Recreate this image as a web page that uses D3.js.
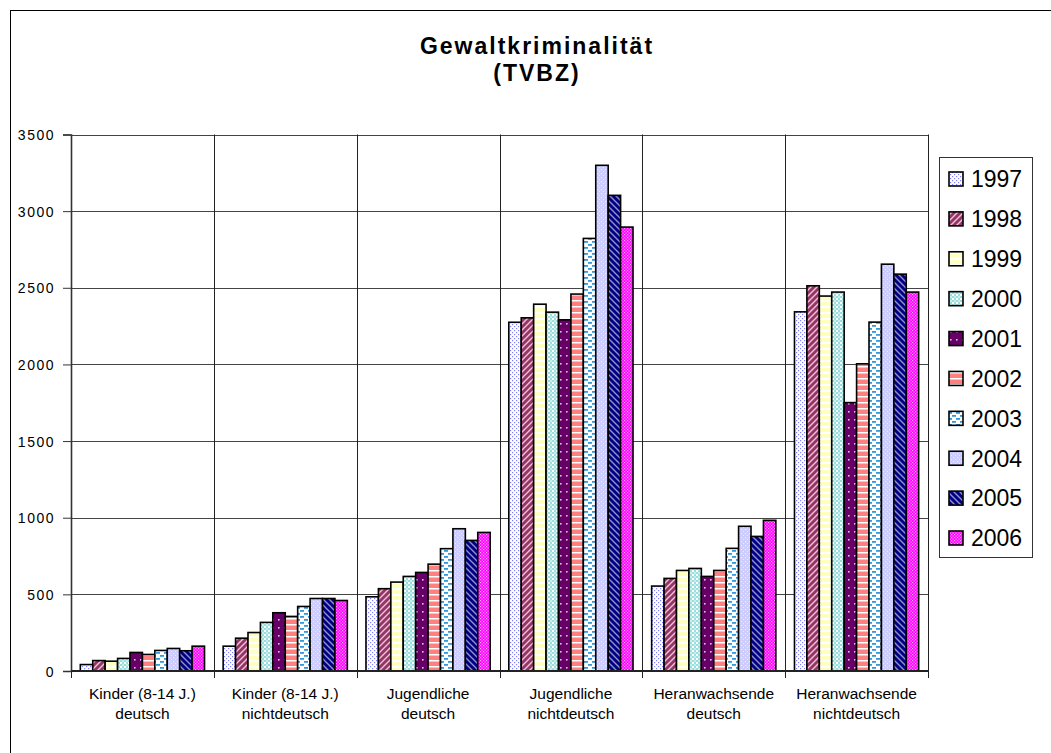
<!DOCTYPE html>
<html>
<head>
<meta charset="utf-8">
<script src="https://cdn.jsdelivr.net/npm/d3@7"></script>
<style>
  html, body { margin: 0; padding: 0; background: #fff; }
  svg { display: block; }
  text { font-family: "Liberation Sans", Arial, sans-serif; fill: #000; }
</style>
</head>
<body>
<svg id="chart" width="1051" height="753"></svg>
<script>
// ---------- data ----------
const categories = [
  ["Kinder (8-14 J.)", "deutsch"],
  ["Kinder (8-14 J.)", "nichtdeutsch"],
  ["Jugendliche", "deutsch"],
  ["Jugendliche", "nichtdeutsch"],
  ["Heranwachsende", "deutsch"],
  ["Heranwachsende", "nichtdeutsch"]
];
const years = ["1997","1998","1999","2000","2001","2002","2003","2004","2005","2006"];
const s1997 = [42, 162, 484, 2275, 554, 2343];
const s1998 = [68, 214, 537, 2304, 604, 2513];
const s1999 = [64, 251, 580, 2393, 656, 2446];
const s2000 = [82, 317, 617, 2341, 669, 2472];
const s2001 = [121, 380, 643, 2291, 617, 1751];
const s2002 = [108, 356, 697, 2459, 656, 2004];
const s2003 = [134, 421, 798, 2822, 800, 2276];
const s2004 = [147, 473, 928, 3299, 944, 2654];
const s2005 = [132, 473, 852, 3103, 878, 2589];
const s2006 = [162, 460, 904, 2896, 983, 2472];
const yTicks = [0, 500, 1000, 1500, 2000, 2500, 3000, 3500];
const titleLines = ["Gewaltkriminalität", "(TVBZ)"];

const seriesValues = [s1997, s1998, s1999, s2000, s2001, s2002, s2003, s2004, s2005, s2006];

// ---------- layout ----------
const svg = d3.select("#chart");
const plot = { left: 71, right: 928, top: 134.5, bottom: 671 };

// chart border (extends beyond screenshot on right/bottom)
svg.append("rect")
  .attr("x", 10.5).attr("y", 10.5)
  .attr("width", 1100).attr("height", 800)
  .attr("fill", "#fff").attr("stroke", "#000").attr("stroke-width", 1);

// ---------- patterns ----------
const defs = svg.append("defs");
function pat(id, w, h, bg, draw) {
  const p = defs.append("pattern").attr("id", id)
    .attr("patternUnits", "userSpaceOnUse").attr("width", w).attr("height", h);
  p.append("rect").attr("width", w).attr("height", h).attr("fill", bg);
  draw(p);
}
pat("p1997", 4, 4, "#ffffff", p => {
  p.append("rect").attr("x", 0).attr("y", 0).attr("width", 1.2).attr("height", 1.2).attr("fill", "#8080ff");
  p.append("rect").attr("x", 2).attr("y", 2).attr("width", 1.2).attr("height", 1.2).attr("fill", "#8080ff");
});
pat("p1998", 6, 6, "#993366", p => {
  p.append("path").attr("d", "M-1,7 L7,-1 M-1,1 L1,-1 M5,7 L7,5")
    .attr("stroke", "#e8c8d8").attr("stroke-width", 1.4);
});
pat("p1999", 6, 6, "#ffffc0", p => {
  p.append("rect").attr("x", 0).attr("y", 0).attr("width", 6).attr("height", 2).attr("fill", "#ffffff");
});
pat("p2000", 4, 4, "#ffffff", p => {
  p.append("rect").attr("x", 0).attr("y", 0).attr("width", 2).attr("height", 2).attr("fill", "#99dddd");
  p.append("rect").attr("x", 2).attr("y", 2).attr("width", 2).attr("height", 2).attr("fill", "#99dddd");
  p.append("rect").attr("x", 2).attr("y", 0).attr("width", 2).attr("height", 2).attr("fill", "#c8eeee");
});
pat("p2001", 6, 8, "#660066", p => {
  p.append("rect").attr("x", 2).attr("y", 3).attr("width", 1.6).attr("height", 1.6).attr("fill", "#e0c0e0");
});
pat("p2002", 6, 6, "#ff8080", p => {
  p.append("rect").attr("x", 0).attr("y", 0).attr("width", 6).attr("height", 1.5).attr("fill", "#ffffff");
});
pat("p2003", 8, 6, "#ffffff", p => {
  p.append("rect").attr("x", 0).attr("y", 1).attr("width", 4).attr("height", 1.8).attr("fill", "#3399dd");
  p.append("rect").attr("x", 4).attr("y", 4).attr("width", 4).attr("height", 1.8).attr("fill", "#3399dd");
});
pat("p2004", 4, 4, "#ccccff", p => {
  p.append("rect").attr("x", 1).attr("y", 1).attr("width", 1.2).attr("height", 1.2).attr("fill", "#ececff");
  p.append("rect").attr("x", 3).attr("y", 3).attr("width", 1.2).attr("height", 1.2).attr("fill", "#ececff");
});
pat("p2005", 6, 6, "#000080", p => {
  p.append("path").attr("d", "M-1,-1 L7,7 M5,-1 L7,1 M-1,5 L1,7")
    .attr("stroke", "#9090d0").attr("stroke-width", 1.4);
});
pat("p2006", 3, 3, "#ff00ff", p => {
  p.append("rect").attr("x", 0).attr("y", 0).attr("width", 1.2).attr("height", 1.2).attr("fill", "#ffa0ff");
  p.append("rect").attr("x", 1.5).attr("y", 1.5).attr("width", 1.2).attr("height", 1.2).attr("fill", "#ffa0ff");
});

// ---------- scales ----------
const x0 = d3.scaleBand().domain(d3.range(categories.length))
  .range([plot.left, plot.right]).paddingInner(0).paddingOuter(0);
const x1 = d3.scaleBand().domain(years)
  .range([0, x0.bandwidth()]).paddingInner(0).paddingOuter(0.75);
const y = d3.scaleLinear().domain([0, 3500]).range([plot.bottom, plot.top]);

// ---------- gridlines ----------
const g = svg.append("g");
g.selectAll("line.hgrid").data(yTicks.filter(t => t > 0)).enter().append("line")
  .attr("x1", plot.left).attr("x2", plot.right)
  .attr("y1", d => Math.round(y(d)) + 0.5).attr("y2", d => Math.round(y(d)) + 0.5)
  .attr("stroke", "#444").attr("stroke-width", 1);
g.selectAll("line.vgrid").data(d3.range(1, categories.length + 1)).enter().append("line")
  .attr("x1", d => Math.round(x0(d - 1) + x0.bandwidth()) + 0.5)
  .attr("x2", d => Math.round(x0(d - 1) + x0.bandwidth()) + 0.5)
  .attr("y1", plot.top).attr("y2", plot.bottom)
  .attr("stroke", "#222").attr("stroke-width", 1);

// ---------- bars ----------
const barsG = svg.append("g");
years.forEach((yr, i) => {
  barsG.selectAll("rect.b" + yr).data(seriesValues[i]).enter().append("rect")
    .attr("x", (d, c) => x0(c) + x1(yr))
    .attr("y", d => y(d))
    .attr("width", x1.bandwidth())
    .attr("height", d => y(0) - y(d))
    .attr("fill", "url(#p" + yr + ")")
    .attr("stroke", "#000").attr("stroke-width", 1.6);
});

// ---------- axes ----------
const yAxis = d3.axisLeft(y).tickValues(yTicks).tickSize(8).tickPadding(9).tickFormat(d3.format("d"));
const ya = svg.append("g").attr("transform", `translate(${plot.left},0)`).call(yAxis);
ya.select(".domain").attr("stroke", "#333").attr("stroke-width", 1.6);
ya.selectAll(".tick line").attr("stroke", "#333");
ya.selectAll(".tick text")
  .style("font-family", "'Liberation Sans', Arial, sans-serif")
  .style("font-size", "14px").style("letter-spacing", "1.5px")
  .attr("dy", "0.36em").attr("x", -16);

// x axis baseline & ticks
const xa = svg.append("g");
xa.append("line").attr("x1", plot.left).attr("x2", plot.right)
  .attr("y1", plot.bottom).attr("y2", plot.bottom)
  .attr("stroke", "#222").attr("stroke-width", 2);
xa.selectAll("line.xt").data(d3.range(0, categories.length + 1)).enter().append("line")
  .attr("x1", d => Math.round(x0.step() * d + plot.left) + 0.5)
  .attr("x2", d => Math.round(x0.step() * d + plot.left) + 0.5)
  .attr("y1", plot.bottom).attr("y2", plot.bottom + 7)
  .attr("stroke", "#222").attr("stroke-width", 1);

// category labels
categories.forEach((lines, c) => {
  const cx = x0(c) + x0.bandwidth() / 2;
  lines.forEach((t, li) => {
    svg.append("text").attr("x", cx).attr("y", 699 + li * 20)
      .attr("text-anchor", "middle").style("font-size", "15.5px").text(t);
  });
});

// ---------- title ----------
titleLines.forEach((t, i) => {
  svg.append("text").attr("x", 537).attr("y", 54 + i * 27)
    .attr("text-anchor", "middle")
    .style("font-size", "23px").style("font-weight", "bold").style("letter-spacing", "2px")
    .text(t);
});

// ---------- legend ----------
const lg = svg.append("g");
lg.append("rect").attr("x", 939.5).attr("y", 157.5).attr("width", 93).attr("height", 400)
  .attr("fill", "#fff").attr("stroke", "#333").attr("stroke-width", 1);
const rowY = d3.scalePoint().domain(years).range([179, 538]);
years.forEach(yr => {
  lg.append("rect").attr("x", 949).attr("y", rowY(yr) - 7).attr("width", 14).attr("height", 14)
    .attr("fill", "url(#p" + yr + ")").attr("stroke", "#000").attr("stroke-width", 1.6);
  lg.append("text").attr("x", 971).attr("y", rowY(yr)).attr("dy", "0.36em")
    .style("font-size", "23px").text(yr);
});
</script>
</body>
</html>
